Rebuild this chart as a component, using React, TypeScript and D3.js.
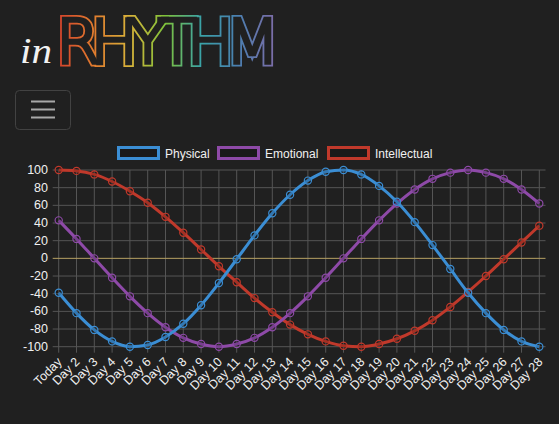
import { useEffect, useRef } from 'react'
import * as d3 from 'd3'

// values
const DAYS = ['Today', 'Day 2', 'Day 3', 'Day 4', 'Day 5', 'Day 6', 'Day 7', 'Day 8', 'Day 9', 'Day 10',
  'Day 11', 'Day 12', 'Day 13', 'Day 14', 'Day 15', 'Day 16', 'Day 17', 'Day 18', 'Day 19', 'Day 20',
  'Day 21', 'Day 22', 'Day 23', 'Day 24', 'Day 25', 'Day 26', 'Day 27', 'Day 28']
const PHYSICAL = [-39, -62, -81, -94, -100, -98, -89, -74, -53, -28, -1, 26, 51, 72, 88, 98, 100, 95, 82, 64, 41, 15, -12, -39, -62, -81, -94, -100]
const EMOTIONAL = [43, 22, 0, -22, -43, -62, -78, -90, -97, -100, -97, -90, -78, -62, -43, -22, 0, 22, 43, 62, 78, 90, 97, 100, 97, 90, 78, 62]
const INTELLECTUAL = [100, 99, 95, 87, 76, 63, 47, 29, 10, -9, -27, -45, -61, -75, -86, -94, -99, -100, -97, -91, -82, -70, -55, -38, -20, -1, 18, 37]
const Y_TICKS = [100, 80, 60, 40, 20, 0, -20, -40, -60, -80, -100]

const SERIES = [
  { name: 'Physical', color: '#3b8ed4', values: PHYSICAL },
  { name: 'Emotional', color: '#8e4aa8', values: EMOTIONAL },
  { name: 'Intellectual', color: '#c0392b', values: INTELLECTUAL },
]

const BG = '#202020'
const FONT = '"Liberation Sans", Arial, Helvetica, sans-serif'
const PLOT = { l: 58.7, r: 539.3, t: 170, b: 346.7, gridR: 545.5 }

export default function App() {
  const svgRef = useRef<SVGSVGElement>(null)

  useEffect(() => {
    const svg = d3.select(svgRef.current)
    svg.selectAll('*').remove()

    const defs = svg.append('defs')
    const grad = defs.append('linearGradient').attr('id', 'rainbow').attr('gradientUnits', 'userSpaceOnUse')
      .attr('x1', 57).attr('x2', 273).attr('y1', 0).attr('y2', 0)
    const stops = ['#d2412c', '#e07a2e', '#d9b23a', '#7fc23a', '#3aa3a8', '#4a7fb0', '#7a6ea8']
    stops.forEach((c, i) => grad.append('stop').attr('offset', i / (stops.length - 1)).attr('stop-color', c))

    // logo
    svg.append('text').attr('x', 20).attr('y', 63).attr('fill', '#f2f2f2').attr('font-size', 36)
      .attr('font-style', 'italic').attr('font-family', '"Liberation Serif", serif').attr('textLength', 32)
      .attr('lengthAdjust', 'spacingAndGlyphs').text('in')
    const logo = (stroke: string, w: number) => svg.append('text').attr('x', 56).attr('y', 63)
      .attr('font-size', 60).attr('font-family', '"DejaVu Sans", sans-serif').attr('font-weight', 200)
      .attr('letter-spacing', -9).attr('textLength', 214).attr('lengthAdjust', 'spacingAndGlyphs')
      .attr('fill', BG).attr('stroke', stroke).attr('stroke-width', w).attr('stroke-linejoin', 'miter').text('RHYTHM')
    logo('url(#rainbow)', 7)
    logo(BG, 3.6)

    // menu button
    svg.append('rect').attr('x', 15.5).attr('y', 90.5).attr('width', 55).attr('height', 39).attr('rx', 4)
      .attr('fill', 'none').attr('stroke', '#424242')
    ;[101.5, 109.5, 117.5].forEach((y) => svg.append('line').attr('x1', 31).attr('x2', 55).attr('y1', y).attr('y2', y)
      .attr('stroke', '#a8a8a8').attr('stroke-width', 2))

    // legend
    const legendX = [117, 217, 327]
    SERIES.forEach((s, i) => {
      svg.append('rect').attr('x', legendX[i] + 1.5).attr('y', 147.5).attr('width', 40).attr('height', 11)
        .attr('fill', '#1a1a1a').attr('stroke', s.color).attr('stroke-width', 3)
      svg.append('text').attr('x', legendX[i] + 48).attr('y', 158).attr('fill', '#f0f0f0').attr('font-size', 12)
        .attr('font-family', FONT).text(s.name)
    })

    const x = d3.scalePoint<string>().domain(DAYS).range([PLOT.l, PLOT.r])
    const y = d3.scaleLinear().domain([-100, 100]).range([PLOT.b, PLOT.t])
    const g = svg.append('g')

    DAYS.forEach((d) => g.append('line').attr('x1', x(d)!).attr('x2', x(d)!).attr('y1', PLOT.t).attr('y2', PLOT.b + 6)
      .attr('stroke', '#555').attr('stroke-width', 1))
    Y_TICKS.forEach((v) => {
      g.append('line').attr('x1', PLOT.l - 6).attr('x2', PLOT.gridR).attr('y1', y(v)).attr('y2', y(v))
        .attr('stroke', v === 0 ? '#b5a062' : '#555').attr('stroke-width', 1)
      g.append('text').attr('x', 48).attr('y', y(v) + 4).attr('text-anchor', 'end').attr('fill', '#f0f0f0')
        .attr('font-size', 12.5).attr('font-family', FONT).text(v)
    })
    DAYS.forEach((d) => g.append('text').attr('transform', `translate(${x(d)! + 4},${PLOT.b + 16}) rotate(-45)`)
      .attr('text-anchor', 'end').attr('fill', '#f0f0f0').attr('font-size', 12.5).attr('font-family', FONT).text(d))

    const line = d3.line<number>().x((_, i) => x(DAYS[i])!).y((v) => y(v)).curve(d3.curveMonotoneX)
    SERIES.slice().reverse().forEach((s) => {
      g.append('path').datum(s.values).attr('d', line).attr('fill', 'none').attr('stroke', s.color).attr('stroke-width', 3)
      s.values.forEach((v, i) => g.append('circle').attr('cx', x(DAYS[i])!).attr('cy', y(v)).attr('r', 3.6)
        .attr('fill', 'rgba(0,0,0,0.15)').attr('stroke', s.color).attr('stroke-width', 1.2))
    })
  }, [])

  return (
    <div style={{ position: 'absolute', left: 0, top: 0, width: 559, height: 424, background: BG }}>
      <svg ref={svgRef} width={559} height={424} />
    </div>
  )
}
